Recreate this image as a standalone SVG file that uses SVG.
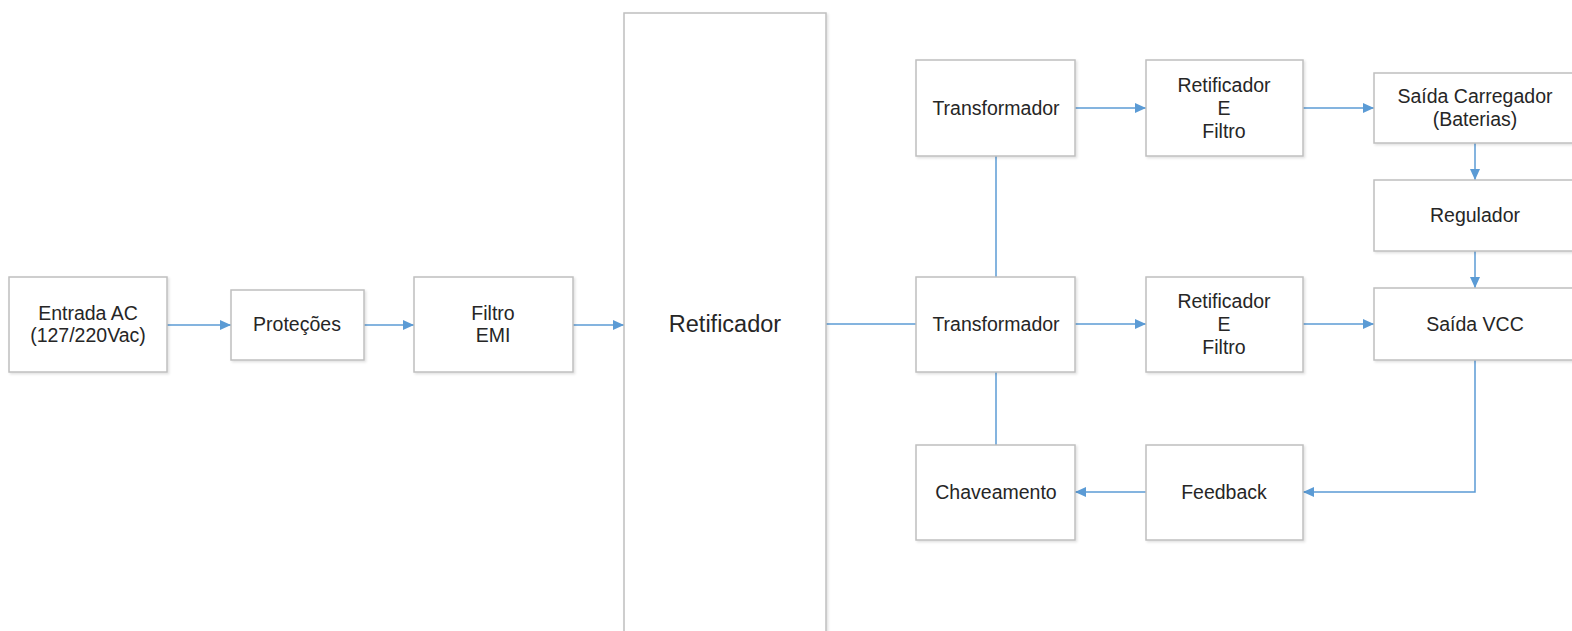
<svg xmlns="http://www.w3.org/2000/svg" width="1572" height="631" viewBox="0 0 1572 631">
<defs>
<style>
.box{fill:#ffffff;stroke:#bfbfbf;stroke-width:1.5;filter:url(#sh)}
.t{font-family:"Liberation Sans",Arial,sans-serif;font-size:19.5px;fill:#262626;text-anchor:middle}
.big{font-size:23.5px}
.c{fill:none;stroke:#5b9bd5;stroke-width:1.5}
.a{marker-end:url(#ah)}
</style>
<filter id="sh" x="-10%" y="-10%" width="120%" height="120%">
<feDropShadow dx="1.5" dy="1.5" stdDeviation="1.2" flood-color="#000000" flood-opacity="0.12"/>
</filter>
<marker id="ah" markerUnits="userSpaceOnUse" markerWidth="12" markerHeight="11" refX="11" refY="5.5" orient="auto">
<path d="M0,0.5 L11,5.5 L0,10.5 z" fill="#5b9bd5"/>
</marker>
</defs>
<rect width="1572" height="631" fill="#ffffff"/>
<g id="connectors">
<path class="c a" d="M167,325 H231"/>
<path class="c a" d="M364,325 H414"/>
<path class="c a" d="M573,325 H624"/>
<path class="c" d="M826,324 H916"/>
<path class="c a" d="M1075,108 H1146"/>
<path class="c a" d="M1303,108 H1374"/>
<path class="c a" d="M1075,324 H1146"/>
<path class="c a" d="M1303,324 H1374"/>
<path class="c a" d="M1475,143 V180"/>
<path class="c a" d="M1475,251 V288"/>
<path class="c a" d="M1475,360 V492 H1303"/>
<path class="c a" d="M1146,492 H1075"/>
<path class="c" d="M996,156 V277"/>
<path class="c" d="M996,372 V445"/>
</g>
<g id="entrada">
<rect class="box" x="9" y="277" width="158" height="95"/>
<text class="t" x="88" y="320">Entrada AC</text>
<text class="t" x="88" y="342">(127/220Vac)</text>
</g>
<g id="protecoes">
<rect class="box" x="231" y="290" width="133" height="70"/>
<text class="t" x="297" y="331">Proteções</text>
</g>
<g id="filtro-emi">
<rect class="box" x="414" y="277" width="159" height="95"/>
<text class="t" x="493" y="320">Filtro</text>
<text class="t" x="493" y="342">EMI</text>
</g>
<g id="retificador">
<rect class="box" x="624" y="13" width="202" height="630"/>
<text class="t big" x="725" y="332">Retificador</text>
</g>
<g id="transformador-top">
<rect class="box" x="916" y="60" width="159" height="96"/>
<text class="t" x="996" y="115">Transformador</text>
</g>
<g id="transformador-mid">
<rect class="box" x="916" y="277" width="159" height="95"/>
<text class="t" x="996" y="331">Transformador</text>
</g>
<g id="chaveamento">
<rect class="box" x="916" y="445" width="159" height="95"/>
<text class="t" x="996" y="499">Chaveamento</text>
</g>
<g id="retificador-filtro-top">
<rect class="box" x="1146" y="60" width="157" height="96"/>
<text class="t" x="1224" y="92">Retificador</text>
<text class="t" x="1224" y="115">E</text>
<text class="t" x="1224" y="138">Filtro</text>
</g>
<g id="retificador-filtro-mid">
<rect class="box" x="1146" y="277" width="157" height="95"/>
<text class="t" x="1224" y="308">Retificador</text>
<text class="t" x="1224" y="331">E</text>
<text class="t" x="1224" y="354">Filtro</text>
</g>
<g id="feedback">
<rect class="box" x="1146" y="445" width="157" height="95"/>
<text class="t" x="1224" y="499">Feedback</text>
</g>
<g id="saida-carregador">
<rect class="box" x="1374" y="73" width="202" height="70"/>
<text class="t" x="1475" y="103">Saída Carregador</text>
<text class="t" x="1475" y="126">(Baterias)</text>
</g>
<g id="regulador">
<rect class="box" x="1374" y="180" width="202" height="71"/>
<text class="t" x="1475" y="222">Regulador</text>
</g>
<g id="saida-vcc">
<rect class="box" x="1374" y="288" width="202" height="72"/>
<text class="t" x="1475" y="331">Saída VCC</text>
</g>
</svg>
